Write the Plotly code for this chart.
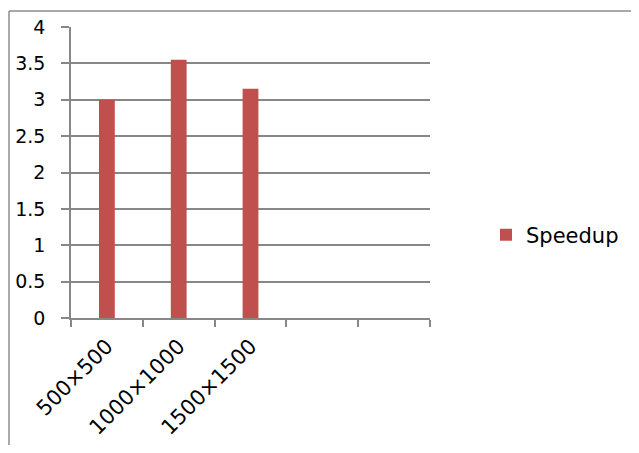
import plotly.graph_objects as go

categories = ["500×500", "1000×1000", "1500×1500"]
all_categories = ["500×500", "1000×1000", "1500×1500", " ", "  "]
speedup = [3.0, 3.55, 3.15]
y_ticks = [0, 0.5, 1, 1.5, 2, 2.5, 3, 3.5, 4]
y_ticklabels = ["0", "0.5", "1", "1.5", "2", "2.5", "3", "3.5", "4"]

# page body has an 8px margin, so the figure starts at (8, 8); keep it inside the window
OFF = 8
W, H = 639 - 2 * OFF, 453 - 2 * OFF
L, R, T, B = 71 - OFF, 430 - OFF, 27 - OFF, 318 - OFF
PW, PH = R - L, B - T

fig = go.Figure()
fig.add_trace(go.Bar(
    x=categories, y=speedup, name="Speedup",
    marker=dict(color="#C0504D", line=dict(width=0)),
    width=0.22,
))

font_family = "DejaVu Sans, Verdana, sans-serif"
grid_col = "#878787"

fig.update_layout(
    width=W, height=H,
    margin=dict(l=L, r=W - R, t=T, b=H - B, pad=0, autoexpand=False),
    paper_bgcolor="white", plot_bgcolor="white",
    font=dict(family=font_family, size=19, color="#000000"),
    showlegend=True,
    legend=dict(x=(486 - OFF - L) / PW, y=(B - (235 - OFF)) / PH, xanchor="left", yanchor="middle",
                font=dict(size=21), itemwidth=30, bgcolor="rgba(0,0,0,0)"),
    xaxis=dict(
        type="category", categoryorder="array", categoryarray=all_categories,
        range=[-0.5, 4.5], tickson="boundaries", ticks="outside", ticklen=7,
        tickcolor=grid_col, tickwidth=1.5, tickangle=-45,
        showline=True, linecolor=grid_col, linewidth=1.5,
        showgrid=False, tickfont=dict(size=21), ticklabelstandoff=6, automargin=False,
    ),
    yaxis=dict(
        range=[0, 4], tickvals=y_ticks, ticktext=y_ticklabels,
        ticks="outside", ticklen=8, tickcolor=grid_col, tickwidth=1.5,
        showline=True, linecolor=grid_col, linewidth=1.5,
        showgrid=True, gridcolor=grid_col, gridwidth=1.5,
        zeroline=False, tickfont=dict(size=19), ticklabelstandoff=12, automargin=False,
    ),
)

# outer chart border (top and left visible)
x_left = (9 - OFF - L) / PW
y_top = (B - (11 - OFF)) / PH
y_bot = (B - H) / PH
x_right = (W - L) / PW
fig.add_shape(type="line", xref="paper", yref="paper", x0=x_left, x1=x_left, y0=y_bot, y1=y_top,
              line=dict(color="#8c8c8c", width=1.5))
fig.add_shape(type="line", xref="paper", yref="paper", x0=x_left, x1=x_right, y0=y_top, y1=y_top,
              line=dict(color="#8c8c8c", width=1.5))

fig.write_html("out.html")
